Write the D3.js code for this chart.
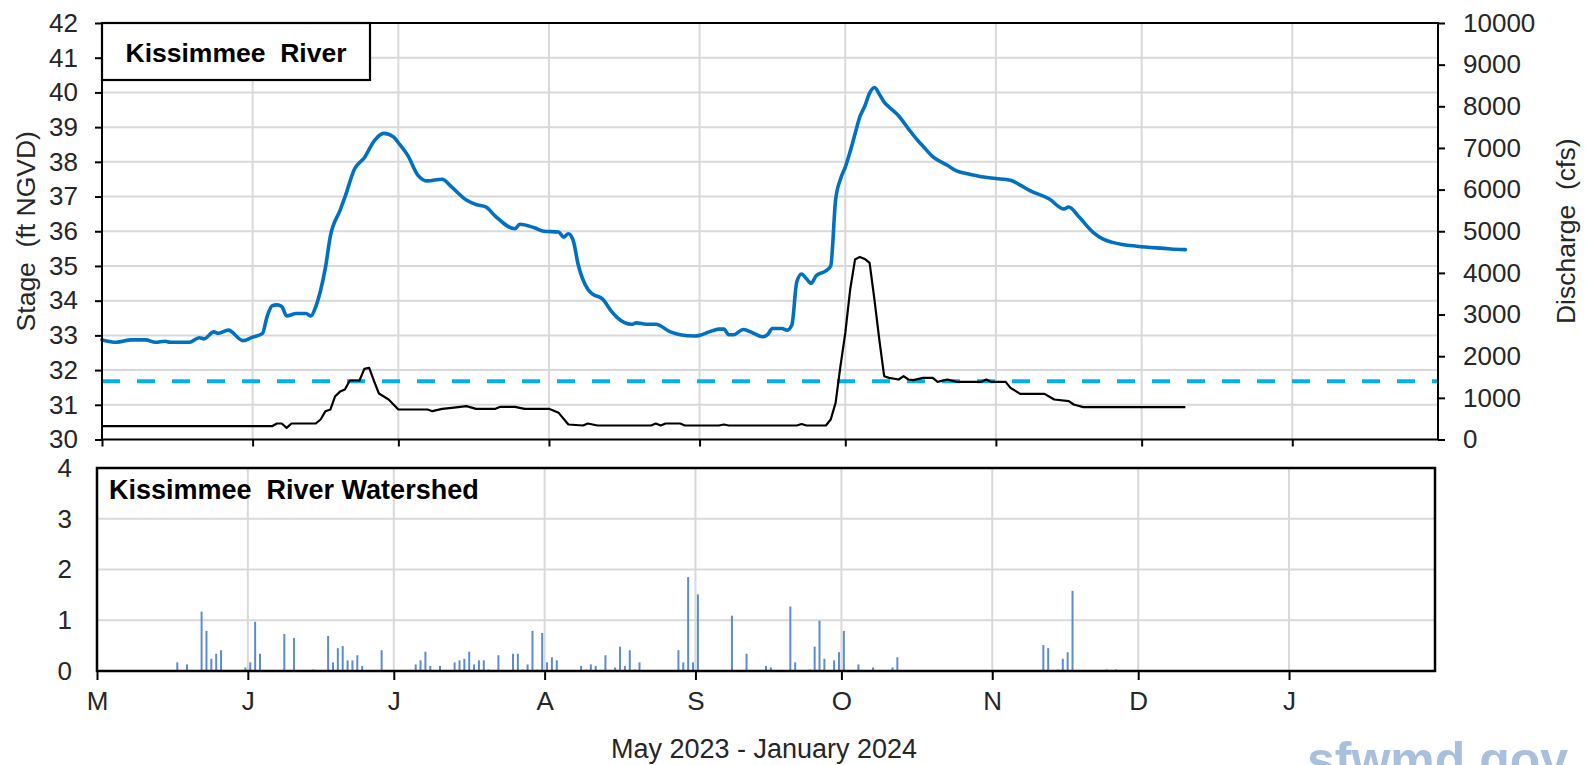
<!DOCTYPE html>
<html>
<head>
<meta charset="utf-8">
<script src="https://cdn.jsdelivr.net/npm/d3@7"></script>
<style>
  body { margin: 0; background: #fff; }
  svg { display: block; }
  text { font-family: "Liberation Sans", Arial, sans-serif; }
</style>
</head>
<body>
<svg id="chart" width="1585" height="765"></svg>
<script>
// ---- Data: Kissimmee River stage, discharge and watershed rainfall ----
const periodStart = "2023-05-01";
const periodEnd = "2024-01-31";
const monthStarts = ["2023-05-01","2023-06-01","2023-07-01","2023-08-01","2023-09-01","2023-10-01","2023-11-01","2023-12-01","2024-01-01"];
const monthLabels = ["M","J","J","A","S","O","N","D","J"];
const stageTicks = [30,31,32,33,34,35,36,37,38,39,40,41,42];
const flowTicks = [0,1000,2000,3000,4000,5000,6000,7000,8000,9000,10000];
const rainTicks = [0,1,2,3,4];
const flowReference = 1400; // cfs, dashed reference level

// Stage (ft NGVD)
const stageSeries = [
  ["2023-05-01",32.87],["2023-05-04",32.80],["2023-05-07",32.87],["2023-05-10",32.87],["2023-05-12",32.80],
  ["2023-05-14",32.83],["2023-05-15",32.80],["2023-05-19",32.80],["2023-05-21",32.93],["2023-05-22",32.90],
  ["2023-05-24",33.10],["2023-05-25",33.06],["2023-05-27",33.15],["2023-05-30",32.85],["2023-06-01",32.95],
  ["2023-06-03",33.05],["2023-06-04",33.55],["2023-06-05",33.85],["2023-06-06",33.88],["2023-06-07",33.83],
  ["2023-06-08",33.56],["2023-06-10",33.63],["2023-06-12",33.63],["2023-06-13",33.56],["2023-06-14",33.83],
  ["2023-06-15",34.30],["2023-06-16",34.96],["2023-06-17",35.85],["2023-06-19",36.60],["2023-06-20",36.98],
  ["2023-06-22",37.80],["2023-06-24",38.12],["2023-06-26",38.60],["2023-06-28",38.82],["2023-06-30",38.72],
  ["2023-07-01",38.55],["2023-07-03",38.17],["2023-07-05",37.62],["2023-07-07",37.45],["2023-07-10",37.50],
  ["2023-07-12",37.27],["2023-07-15",36.90],["2023-07-17",36.77],["2023-07-19",36.70],["2023-07-21",36.43],
  ["2023-07-25",36.07],["2023-07-26",36.20],["2023-07-29",36.10],["2023-07-31",36.00],["2023-08-03",35.98],
  ["2023-08-04",35.83],["2023-08-05",35.93],["2023-08-06",35.73],["2023-08-07",35.05],["2023-08-09",34.33],
  ["2023-08-10",34.19],["2023-08-12",34.05],["2023-08-14",33.67],["2023-08-15",33.52],["2023-08-18",33.32],
  ["2023-08-19",33.36],["2023-08-21",33.32],["2023-08-23",33.32],["2023-08-26",33.10],["2023-08-28",33.02],
  ["2023-08-31",32.98],["2023-09-01",33.00],["2023-09-03",33.10],["2023-09-05",33.18],["2023-09-06",33.18],
  ["2023-09-07",33.02],["2023-09-08",33.02],["2023-09-10",33.17],["2023-09-12",33.07],["2023-09-14",32.96],
  ["2023-09-15",33.02],["2023-09-16",33.20],["2023-09-18",33.20],["2023-09-19",33.15],["2023-09-20",33.30],
  ["2023-09-21",34.53],["2023-09-22",34.77],["2023-09-23",34.63],["2023-09-24",34.50],["2023-09-25",34.72],
  ["2023-09-27",34.86],["2023-09-28",35.00],["2023-09-29",36.90],["2023-09-30",37.50],["2023-10-01",37.85],
  ["2023-10-02",38.30],["2023-10-03",38.80],["2023-10-04",39.30],["2023-10-05",39.60],["2023-10-06",39.98],
  ["2023-10-07",40.14],["2023-10-08",39.95],["2023-10-09",39.72],["2023-10-10",39.58],["2023-10-12",39.32],
  ["2023-10-14",38.95],["2023-10-16",38.60],["2023-10-17",38.45],["2023-10-19",38.15],["2023-10-22",37.90],
  ["2023-10-24",37.73],["2023-10-26",37.66],["2023-10-29",37.57],["2023-11-01",37.52],["2023-11-04",37.47],
  ["2023-11-06",37.33],["2023-11-08",37.17],["2023-11-12",36.93],["2023-11-15",36.64],["2023-11-16",36.70],
  ["2023-11-18",36.43],["2023-11-21",35.97],["2023-11-23",35.78],["2023-11-25",35.68],["2023-11-27",35.62],
  ["2023-11-30",35.57],["2023-12-04",35.52],["2023-12-07",35.49],["2023-12-10",35.47]
];

// Discharge (cfs)
const flowSeries = [
  ["2023-05-01",320],["2023-06-05",320],["2023-06-06",384],["2023-06-07",384],["2023-06-08",280],
  ["2023-06-09",384],["2023-06-14",384],["2023-06-15",480],["2023-06-16",680],["2023-06-17",720],
  ["2023-06-18",1040],["2023-06-19",1150],["2023-06-20",1200],["2023-06-21",1416],["2023-06-23",1416],
  ["2023-06-24",1696],["2023-06-25",1720],["2023-06-26",1400],["2023-06-27",1104],["2023-06-29",960],
  ["2023-07-01",720],["2023-07-07",720],["2023-07-08",680],["2023-07-10",736],["2023-07-12",760],
  ["2023-07-15",800],["2023-07-17",736],["2023-07-21",736],["2023-07-22",784],["2023-07-25",784],
  ["2023-07-27",736],["2023-08-01",736],["2023-08-03",640],["2023-08-05",360],["2023-08-08",336],
  ["2023-08-09",384],["2023-08-11",336],["2023-08-22",336],["2023-08-23",384],["2023-08-24",336],
  ["2023-08-25",384],["2023-08-28",384],["2023-08-29",336],["2023-09-05",336],["2023-09-06",360],
  ["2023-09-07",336],["2023-09-21",336],["2023-09-22",372],["2023-09-23",336],["2023-09-27",336],
  ["2023-09-28",480],["2023-09-29",880],["2023-09-30",1760],["2023-10-01",2560],["2023-10-02",3600],
  ["2023-10-03",4320],["2023-10-04",4384],["2023-10-05",4336],["2023-10-06",4240],["2023-10-07",3360],
  ["2023-10-08",2400],["2023-10-09",1520],["2023-10-10",1480],["2023-10-12",1440],["2023-10-13",1520],
  ["2023-10-14",1440],["2023-10-15",1424],["2023-10-17",1480],["2023-10-19",1480],["2023-10-20",1384],
  ["2023-10-22",1440],["2023-10-24",1384],["2023-10-29",1384],["2023-10-30",1440],["2023-10-31",1384],
  ["2023-11-03",1384],["2023-11-04",1240],["2023-11-06",1096],["2023-11-11",1096],["2023-11-13",960],
  ["2023-11-16",920],["2023-11-17",840],["2023-11-19",776],["2023-12-10",776]
];

// Daily rainfall (in)
const rainSeries = [
  ["2023-05-17",0.17],["2023-05-19",0.13],["2023-05-22",1.17],["2023-05-23",0.79],["2023-05-24",0.24],
  ["2023-05-25",0.34],["2023-05-26",0.41],["2023-05-31",0.07],["2023-06-01",0.17],["2023-06-02",0.97],
  ["2023-06-03",0.34],["2023-06-08",0.73],["2023-06-10",0.65],["2023-06-14",0.03],["2023-06-17",0.69],
  ["2023-06-18",0.17],["2023-06-19",0.45],["2023-06-20",0.49],["2023-06-21",0.21],["2023-06-22",0.21],
  ["2023-06-23",0.31],["2023-06-24",0.10],["2023-06-28",0.41],["2023-07-05",0.13],["2023-07-06",0.21],
  ["2023-07-07",0.38],["2023-07-08",0.10],["2023-07-10",0.10],["2023-07-13",0.17],["2023-07-14",0.21],
  ["2023-07-15",0.24],["2023-07-16",0.38],["2023-07-17",0.13],["2023-07-18",0.21],["2023-07-19",0.21],
  ["2023-07-20",0.03],["2023-07-22",0.31],["2023-07-25",0.34],["2023-07-26",0.34],["2023-07-27",0.03],
  ["2023-07-28",0.13],["2023-07-29",0.79],["2023-07-30",0.03],["2023-07-31",0.75],["2023-08-01",0.17],
  ["2023-08-02",0.27],["2023-08-03",0.21],["2023-08-08",0.10],["2023-08-09",0.03],["2023-08-10",0.13],
  ["2023-08-11",0.10],["2023-08-13",0.31],["2023-08-15",0.07],["2023-08-16",0.48],["2023-08-17",0.10],
  ["2023-08-18",0.41],["2023-08-19",0.03],["2023-08-20",0.17],["2023-08-28",0.41],["2023-08-29",0.17],
  ["2023-08-30",1.85],["2023-08-31",0.17],["2023-09-01",1.51],["2023-09-08",1.09],["2023-09-11",0.34],
  ["2023-09-15",0.10],["2023-09-16",0.07],["2023-09-20",1.27],["2023-09-21",0.17],["2023-09-24",0.03],
  ["2023-09-25",0.48],["2023-09-26",0.99],["2023-09-27",0.24],["2023-09-29",0.21],["2023-09-30",0.37],
  ["2023-10-01",0.79],["2023-10-04",0.13],["2023-10-07",0.07],["2023-10-11",0.07],["2023-10-12",0.27],
  ["2023-11-11",0.51],["2023-11-12",0.45],["2023-11-14",0.03],["2023-11-15",0.24],["2023-11-16",0.37],
  ["2023-11-17",1.58],["2023-11-24",0.03],["2023-11-26",0.03]
];

// ---- Scales ----
const parse = d3.utcParse("%Y-%m-%d");
const domainX = [parse(periodStart), parse(periodEnd)];
const months = monthStarts.map(parse);

const upper = { left: 102, right: 1438, top: 23, bottom: 439.5 };
const lower = { left: 97, right: 1435, top: 468, bottom: 671 };

const xTop = d3.scaleUtc().domain(domainX).range([upper.left, upper.right]);
const yStage = d3.scaleLinear().domain([30, 42]).range([upper.bottom, upper.top]);
const yFlow = d3.scaleLinear().domain([0, 10000]).range([upper.bottom, upper.top]);
const xBot = d3.scaleUtc().domain(domainX).range([lower.left, lower.right]);
const yRain = d3.scaleLinear().domain([0, 4]).range([lower.bottom, lower.top]);

const svg = d3.select("#chart");
const GRID = "#d9d9d9";
const TXT = "#262626";

// ---- Upper panel: stage and discharge ----
const gTop = svg.append("g");

gTop.append("g").selectAll("line").data(stageTicks.slice(1, -1)).join("line")
  .attr("x1", upper.left).attr("x2", upper.right)
  .attr("y1", d => yStage(d)).attr("y2", d => yStage(d))
  .attr("stroke", GRID).attr("stroke-width", 2);
gTop.append("g").selectAll("line").data(months.slice(1)).join("line")
  .attr("x1", d => xTop(d)).attr("x2", d => xTop(d))
  .attr("y1", upper.top).attr("y2", upper.bottom)
  .attr("stroke", GRID).attr("stroke-width", 2);

// dashed reference level
gTop.append("line")
  .attr("x1", upper.left).attr("x2", upper.right)
  .attr("y1", yFlow(flowReference)).attr("y2", yFlow(flowReference))
  .attr("stroke", "#00b0f0").attr("stroke-width", 4).attr("stroke-dasharray", "18,17");

const flowLine = d3.line().x(d => xTop(parse(d[0]))).y(d => yFlow(d[1]));
gTop.append("path").datum(flowSeries).attr("d", flowLine)
  .attr("fill", "none").attr("stroke", "#000").attr("stroke-width", 2.2).attr("stroke-linejoin", "round");

const stageLine = d3.line().x(d => xTop(parse(d[0]))).y(d => yStage(d[1])).curve(d3.curveMonotoneX);
gTop.append("path").datum(stageSeries).attr("d", stageLine)
  .attr("fill", "none").attr("stroke", "#0070c0").attr("stroke-width", 3.6)
  .attr("stroke-linejoin", "round").attr("stroke-linecap", "round");

gTop.append("rect")
  .attr("x", upper.left).attr("y", upper.top)
  .attr("width", upper.right - upper.left).attr("height", upper.bottom - upper.top)
  .attr("fill", "none").attr("stroke", "#000").attr("stroke-width", 2);

function styleAxis(g, size) {
  g.select(".domain").remove();
  g.selectAll(".tick line").attr("stroke", "#000").attr("stroke-width", 2);
  g.selectAll(".tick text").attr("fill", TXT).style("font-size", size + "px");
}

gTop.append("g").attr("transform", `translate(${upper.left},0)`)
  .call(d3.axisLeft(yStage).tickValues(stageTicks).tickSize(7).tickPadding(17).tickFormat(d3.format("d")))
  .call(g => styleAxis(g, 26));
gTop.append("g").attr("transform", `translate(${upper.right},0)`)
  .call(d3.axisRight(yFlow).tickValues(flowTicks).tickSize(7).tickPadding(18).tickFormat(d3.format("d")))
  .call(g => styleAxis(g, 26));
gTop.append("g").attr("transform", `translate(0,${upper.bottom})`)
  .call(d3.axisBottom(xTop).tickValues(months).tickSize(7).tickFormat(""))
  .call(g => styleAxis(g, 26));

// title box
const titleBox = gTop.append("g");
titleBox.append("rect").attr("x", upper.left).attr("y", upper.top).attr("width", 268).attr("height", 57)
  .attr("fill", "#fff").attr("stroke", "#000").attr("stroke-width", 2.2);
titleBox.append("text").attr("x", upper.left + 134).attr("y", 62).attr("text-anchor", "middle")
  .attr("fill", "#000").style("font-size", "26.5px").style("font-weight", "bold")
  .style("white-space", "pre").text("Kissimmee  River");

svg.append("text").attr("transform", `translate(35,${(upper.top + upper.bottom) / 2}) rotate(-90)`)
  .attr("text-anchor", "middle").attr("fill", TXT).style("font-size", "26.5px").style("white-space", "pre")
  .text("Stage  (ft NGVD)");
svg.append("text").attr("transform", `translate(1575,${(upper.top + upper.bottom) / 2}) rotate(-90)`)
  .attr("text-anchor", "middle").attr("fill", TXT).style("font-size", "26.5px").style("white-space", "pre")
  .text("Discharge  (cfs)");

// ---- Lower panel: rainfall ----
const gBot = svg.append("g");
gBot.append("g").selectAll("line").data(rainTicks.slice(1, -1)).join("line")
  .attr("x1", lower.left).attr("x2", lower.right)
  .attr("y1", d => yRain(d)).attr("y2", d => yRain(d))
  .attr("stroke", GRID).attr("stroke-width", 2);
gBot.append("g").selectAll("line").data(months.slice(1)).join("line")
  .attr("x1", d => xBot(d)).attr("x2", d => xBot(d))
  .attr("y1", lower.top).attr("y2", lower.bottom)
  .attr("stroke", GRID).attr("stroke-width", 2);

gBot.append("g").selectAll("line").data(rainSeries).join("line")
  .attr("x1", d => xBot(d3.utcHour.offset(parse(d[0]), 12)))
  .attr("x2", d => xBot(d3.utcHour.offset(parse(d[0]), 12)))
  .attr("y1", yRain(0)).attr("y2", d => yRain(d[1]))
  .attr("stroke", "#5b8bd0").attr("stroke-width", 2);

gBot.append("text").attr("x", 109).attr("y", 499).attr("fill", "#000")
  .style("font-size", "27px").style("font-weight", "bold").style("white-space", "pre")
  .text("Kissimmee  River Watershed");

gBot.append("rect")
  .attr("x", lower.left).attr("y", lower.top)
  .attr("width", lower.right - lower.left).attr("height", lower.bottom - lower.top)
  .attr("fill", "none").attr("stroke", "#000").attr("stroke-width", 2.5);

gBot.append("g").attr("transform", `translate(${lower.left},0)`)
  .call(d3.axisLeft(yRain).tickValues(rainTicks).tickSize(0).tickPadding(25).tickFormat(d3.format("d")))
  .call(g => styleAxis(g, 26));
gBot.append("g").attr("transform", `translate(0,${lower.bottom})`)
  .call(d3.axisBottom(xBot).tickValues(months).tickSize(9).tickPadding(12).tickFormat((d, i) => monthLabels[i]))
  .call(g => styleAxis(g, 26));

svg.append("text").attr("x", 764).attr("y", 758)
  .attr("text-anchor", "middle").attr("fill", TXT).style("font-size", "27px")
  .text("May 2023 - January 2024");

// site mark along the bottom edge
svg.append("text").attr("x", 1307).attr("y", 777).attr("fill", "#a9c0dc")
  .style("font-size", "50px").style("font-weight", "bold").text("sfwmd.gov");
</script>
</body>
</html>
